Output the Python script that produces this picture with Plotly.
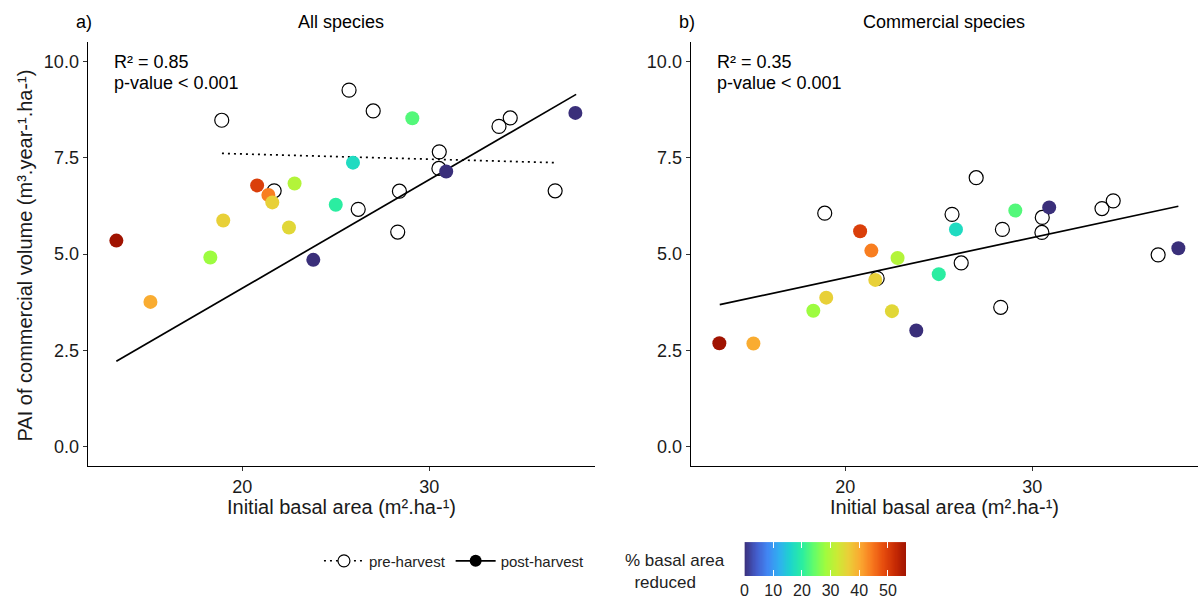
import numpy as np
import plotly.graph_objects as go
from plotly.colors import sample_colorscale

# ---------------- data ----------------
post_x = [13.28, 15.10, 18.30, 18.99, 20.80, 21.40, 21.61, 22.80, 22.50, 23.80, 25.00, 25.92, 29.09, 30.90, 37.80]
post_y_all = [5.35, 3.76, 4.91, 5.87, 6.78, 6.53, 6.34, 6.83, 5.69, 4.85, 6.28, 7.37, 8.52, 7.14, 8.66]
post_y_com = [2.69, 2.68, 3.53, 3.87, 5.59, 5.09, 4.33, 4.90, 3.52, 3.02, 4.48, 5.64, 6.13, 6.21, 5.15]
reduction = [56.3, 40, 28, 36, 50, 44, 36, 30, 35, 0, 20, 17, 23, 0, 0]

pre_x = [18.91, 25.71, 27.00, 21.71, 26.20, 28.40, 28.31, 30.53, 30.51, 33.72, 34.32, 36.72]
pre_y_all = [8.47, 9.25, 8.71, 6.64, 6.16, 6.63, 5.57, 7.65, 7.22, 8.31, 8.53, 6.64]
pre_y_com = [6.06, 6.03, 6.98, 4.37, 4.77, 5.64, 3.62, 5.95, 5.56, 6.18, 6.38, 4.98]

fit_all_post_x = [13.28, 37.84]
fit_all_post_y = [2.22, 9.14]
fit_all_pre_x = [18.92, 36.70]
fit_all_pre_y = [7.61, 7.37]
fit_com_post_x = [13.30, 37.80]
fit_com_post_y = [3.69, 6.24]

panel_titles = ["All species", "Commercial species"]
panel_tags = ["a)", "b)"]
r2_texts = ["R\u00b2 = 0.85", "R\u00b2 = 0.35"]
p_texts = ["p-value < 0.001", "p-value < 0.001"]
x_title = "Initial basal area (m\u00b2.ha-\u00b9)"
y_title = "PAI of commercial volume (m\u00b3.year-\u00b9.ha-\u00b9)"
cbar_ticks = [0, 10, 20, 30, 40, 50]
cmin_val = 0
cmax_val = max(reduction)

# ---------------- styling ----------------
W, H = 1203, 599
FONT = "Liberation Sans, Arial, sans-serif"
cols = sample_colorscale("Turbo", list(np.linspace(0.04, 0.95, 15)))
cscale = [[i / (len(cols) - 1), c] for i, c in enumerate(cols)]


def px_x(v):
    return v / W


def px_y(v):
    return 1 - v / H


fig = go.Figure()

panels = [
    ("x", "y", pre_y_all, post_y_all,
     [(fit_all_pre_x, fit_all_pre_y, "2px,4px"), (fit_all_post_x, fit_all_post_y, "solid")]),
    ("x2", "y2", pre_y_com, post_y_com,
     [(fit_com_post_x, fit_com_post_y, "solid")]),
]

for i, (xa, ya, pre_y, post_y, fits) in enumerate(panels):
    for fx, fy, dash in fits:
        fig.add_trace(go.Scatter(x=fx, y=fy, mode="lines", xaxis=xa, yaxis=ya,
                                 line=dict(color="black", width=1.7, dash=dash),
                                 showlegend=False, hoverinfo="skip"))
    fig.add_trace(go.Scatter(x=pre_x, y=pre_y, mode="markers", xaxis=xa, yaxis=ya,
                             marker=dict(size=14, color="rgba(0,0,0,0)",
                                         line=dict(color="black", width=1.2)),
                             showlegend=False))
    fig.add_trace(go.Scatter(x=post_x, y=post_y, mode="markers", xaxis=xa, yaxis=ya,
                             marker=dict(size=14, color=reduction, colorscale=cscale,
                                         cmin=cmin_val, cmax=cmax_val, line=dict(width=0),
                                         showscale=False),
                             showlegend=False))

# colour legend drawn as a gradient strip on its own small axis
grad = np.linspace(cmin_val, cmax_val, 300)
fig.add_trace(go.Heatmap(z=[grad], x=grad, y=[0], xaxis="x3", yaxis="y3",
                         colorscale=cscale, zmin=cmin_val, zmax=cmax_val,
                         showscale=False, hoverinfo="skip"))

# legend entries
fig.add_trace(go.Scatter(x=[None], y=[None], mode="lines+markers", name="pre-harvest",
                         line=dict(color="black", width=1.5, dash="2px,4px"),
                         marker=dict(size=12, color="white", line=dict(color="black", width=1.2))))
fig.add_trace(go.Scatter(x=[None], y=[None], mode="lines+markers", name="post-harvest",
                         line=dict(color="black", width=1.7),
                         marker=dict(size=12, color="black")))

xdom = [[84, 593], [689, 1198]]
ydom = [px_y(467), px_y(42)]
axis_common = dict(showline=True, linecolor="black", linewidth=1.4, ticks="outside",
                   ticklen=4, tickwidth=1.2, tickcolor="#333", showgrid=False, zeroline=False,
                   tickfont=dict(size=18, color="#1a1a1a", family=FONT))

fig.update_layout(
    width=W, height=H, margin=dict(l=0, r=0, t=0, b=0),
    plot_bgcolor="white", paper_bgcolor="white",
    font=dict(family=FONT, color="black"),
    xaxis=dict(domain=[px_x(xdom[0][0]), px_x(xdom[0][1])], range=[11.75, 38.85],
               tick0=0, dtick=10, anchor="y", **axis_common),
    yaxis=dict(domain=ydom, range=[-0.5, 10.5], tick0=0, dtick=2.5, tickformat=".1f",
               anchor="x", **axis_common),
    xaxis2=dict(domain=[px_x(xdom[1][0]), px_x(xdom[1][1])], range=[11.75, 38.85],
                tick0=0, dtick=10, anchor="y2", **axis_common),
    yaxis2=dict(domain=ydom, range=[-0.5, 10.5], tick0=0, dtick=2.5, tickformat=".1f",
                anchor="x2", **axis_common),
    xaxis3=dict(domain=[px_x(743), px_x(905)], range=[cmin_val, cmax_val], anchor="y3",
                tickvals=cbar_ticks, ticks="inside", ticklen=6, tickwidth=1, tickcolor="white",
                showline=True, linecolor="rgba(255,255,255,0.6)", linewidth=1, mirror="ticks",
                showgrid=False, zeroline=False, fixedrange=True,
                tickfont=dict(size=16, color="#222", family=FONT)),
    yaxis3=dict(domain=[px_y(577), px_y(543)], range=[-0.5, 0.5], anchor="x3",
                showticklabels=False, showgrid=False, zeroline=False, ticks="",
                fixedrange=True),
    showlegend=True,
    legend=dict(orientation="h", x=px_x(316), xanchor="left", y=px_y(562), yanchor="middle",
                font=dict(size=15, color="#222", family=FONT), itemwidth=40,
                bgcolor="rgba(0,0,0,0)", traceorder="normal"),
)

ann = []
for i in range(2):
    left, right = xdom[i]
    ann.append(dict(text=panel_tags[i], x=px_x(left - 4), y=px_y(22), xref="paper", yref="paper",
                    showarrow=False, font=dict(size=18), xanchor="center", yanchor="middle"))
    ann.append(dict(text=panel_titles[i], x=px_x((left + right) / 2), y=px_y(22), xref="paper",
                    yref="paper", showarrow=False, font=dict(size=18), xanchor="center",
                    yanchor="middle"))
    ann.append(dict(text=r2_texts[i], x=px_x(left + 24), y=px_y(62), xref="paper", yref="paper",
                    showarrow=False, font=dict(size=18), xanchor="left", yanchor="middle"))
    ann.append(dict(text=p_texts[i], x=px_x(left + 24), y=px_y(83), xref="paper", yref="paper",
                    showarrow=False, font=dict(size=18), xanchor="left", yanchor="middle"))
    ann.append(dict(text=x_title, x=px_x((left + right) / 2), y=px_y(508), xref="paper",
                    yref="paper", showarrow=False, font=dict(size=20, color="#1a1a1a"),
                    xanchor="center", yanchor="middle"))

ann.append(dict(text=y_title, x=px_x(21), y=px_y(256), xref="paper", yref="paper",
                showarrow=False, textangle=-90, font=dict(size=20, color="#1a1a1a"),
                xanchor="center", yanchor="middle"))
ann.append(dict(text="% basal area<br>\u00a0\u00a0reduced", x=px_x(621), y=px_y(572), xref="paper",
                yref="paper", showarrow=False, align="left", font=dict(size=17, color="#222"),
                xanchor="left", yanchor="middle"))
fig.update_layout(annotations=ann)

fig.write_html("out.html")
